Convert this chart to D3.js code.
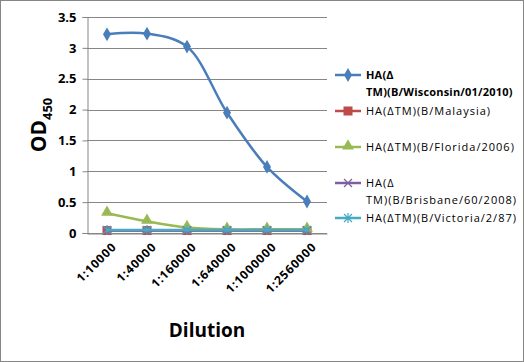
<!DOCTYPE html>
<html>
<head>
<meta charset="utf-8">
<script src="https://cdn.jsdelivr.net/npm/d3@7"></script>
<style>
  body { margin: 0; background: #fff; }
  text { font-family: "Open Sans", "DejaVu Sans", sans-serif; }
</style>
</head>
<body>
<svg id="chart" width="524" height="362"></svg>
<script>
// data
var dilutions = ["1:10000", "1:40000", "1:160000", "1:640000", "1:1000000", "1:2560000"]
var wisconsin = [3.22, 3.23, 3.02, 1.95, 1.07, 0.51]
var malaysia = [0.04, 0.04, 0.04, 0.04, 0.04, 0.04]
var florida = [0.32, 0.19, 0.09, 0.06, 0.06, 0.06]
var brisbane = [0.04, 0.04, 0.04, 0.04, 0.04, 0.04]
var victoria = [0.05, 0.05, 0.05, 0.05, 0.05, 0.05]
var yTicks = [0, 0.5, 1, 1.5, 2, 2.5, 3, 3.5]

var series = [
  {lines: ["HA(\u0394", "TM)(B/Wisconsin/01/2010)"], values: wisconsin, color: "#4a7ebb", marker: "diamond", bold: true},
  {lines: ["HA(\u0394TM)(B/Malaysia)"], values: malaysia, color: "#be4b48", marker: "square"},
  {lines: ["HA(\u0394TM)(B/Florida/2006)"], values: florida, color: "#98b954", marker: "triangle"},
  {lines: ["HA(\u0394", "TM)(B/Brisbane/60/2008)"], values: brisbane, color: "#7d60a0", marker: "x"},
  {lines: ["HA(\u0394TM)(B/Victoria/2/87)"], values: victoria, color: "#46aac5", marker: "star"}
]

var svg = d3.select("#chart")

// outer frame
svg.append("rect")
  .attr("x", 0.5).attr("y", 0.5)
  .attr("width", 523).attr("height", 361)
  .attr("fill", "#fff").attr("stroke", "#868686")

var plotLeft = 87, plotRight = 327, plotTop = 17, plotBottom = 233

var x = d3.scaleBand().domain(dilutions).range([plotLeft, plotRight])
var y = d3.scaleLinear().domain([0, 3.5]).range([plotBottom, plotTop])

// gridlines
svg.selectAll("line.grid")
  .data(yTicks)
  .enter()
  .append("line")
    .attr("x1", plotLeft).attr("x2", plotRight)
    .attr("y1", function(d){ return Math.round(y(d)) + 0.5 })
    .attr("y2", function(d){ return Math.round(y(d)) + 0.5 })
    .attr("stroke", "#868686")

// y axis
var yAxis = svg.append("g")
  .attr("transform", "translate(" + (plotLeft + 0.5) + ",0)")
  .call(d3.axisLeft(y).tickValues(yTicks).tickSize(5).tickFormat(d3.format("")))
yAxis.select(".domain").attr("stroke", "#868686")
yAxis.selectAll(".tick line").attr("stroke", "#868686")
yAxis.selectAll(".tick text")
  .attr("x", -11)
  .style("font-size", "13px").style("font-weight", "bold").attr("fill", "#000")

// x axis
var xAxis = svg.append("g")
  .attr("transform", "translate(0," + (plotBottom + 0.5) + ")")
  .call(d3.axisBottom(x).tickSize(0))
xAxis.select(".domain").attr("stroke", "#868686")
xAxis.selectAll(".tick text")
  .attr("text-anchor", "end")
  .attr("dy", "0")
  .attr("transform", "translate(8,12) rotate(-45)")
  .style("font-size", "12px").style("letter-spacing", "0.8px")
  .style("font-weight", "bold").attr("fill", "#000")

// axis titles
svg.append("text")
  .attr("transform", "translate(46," + ((plotTop + plotBottom) / 2) + ") rotate(-90)")
  .attr("text-anchor", "middle")
  .style("font-size", "21px").style("font-weight", "bold")
  .text("OD")
  .append("tspan")
    .attr("dy", 6).style("font-size", "13px")
    .text("450")

svg.append("text")
  .attr("x", 207).attr("y", 337)
  .attr("text-anchor", "middle")
  .style("font-size", "19px").style("font-weight", "bold")
  .text("Dilution")

// markers
function drawMarker(g, type, color, cx, cy) {
  if (type === "diamond") {
    g.append("path").attr("d", d3.symbol(d3.symbolDiamond, 55)())
      .attr("transform", "translate(" + cx + "," + cy + ")").attr("fill", color)
  } else if (type === "square") {
    g.append("rect").attr("x", cx - 4.5).attr("y", cy - 4.5).attr("width", 9).attr("height", 9).attr("fill", color)
  } else if (type === "triangle") {
    g.append("path").attr("d", d3.symbol(d3.symbolTriangle, 60)())
      .attr("transform", "translate(" + cx + "," + (cy - 1) + ")").attr("fill", color)
  } else if (type === "x") {
    g.append("path").attr("d", "M-4,-4L4,4M-4,4L4,-4")
      .attr("transform", "translate(" + cx + "," + cy + ")").attr("stroke", color).attr("stroke-width", 1.2)
  } else {
    g.append("path").attr("d", "M-4,-4L4,4M-4,4L4,-4M0,-5L0,5")
      .attr("transform", "translate(" + cx + "," + cy + ")").attr("stroke", color).attr("stroke-width", 1.2)
  }
}

var line = d3.line()
  .x(function(d, i){ return x(dilutions[i]) + x.bandwidth() / 2 })
  .y(function(d){ return y(d) })
  .curve(d3.curveCatmullRom.alpha(0.5))

// series drawn in legend order, the last one ends up on top
series.forEach(function(s) {
  var g = svg.append("g")
  g.append("path")
    .datum(s.values)
    .attr("d", line)
    .attr("fill", "none")
    .attr("stroke", s.color)
    .attr("stroke-width", 2.5)
  s.values.forEach(function(v, i) {
    drawMarker(g, s.marker, s.color, x(dilutions[i]) + x.bandwidth() / 2, y(v))
  })
})

// legend
var legendRows = [75, 111, 147, 183, 218]
series.forEach(function(s, i) {
  var g = svg.append("g")
  var ly = legendRows[i]
  g.append("line")
    .attr("x1", 335).attr("x2", 361)
    .attr("y1", ly).attr("y2", ly)
    .attr("stroke", s.color).attr("stroke-width", 2.5)
  drawMarker(g, s.marker, s.color, 348, ly)
  var t = g.append("text")
    .attr("x", 366).attr("y", ly + 4)
    .style("font-size", "11px")
    .style("letter-spacing", s.bold ? "0.2px" : "1px")
    .style("font-weight", s.bold ? "bold" : "normal")
    .attr("fill", "#000")
  s.lines.forEach(function(l, j) {
    t.append("tspan").attr("x", 366).attr("dy", j === 0 ? 0 : 17).text(l)
  })
})
</script>
</body>
</html>
